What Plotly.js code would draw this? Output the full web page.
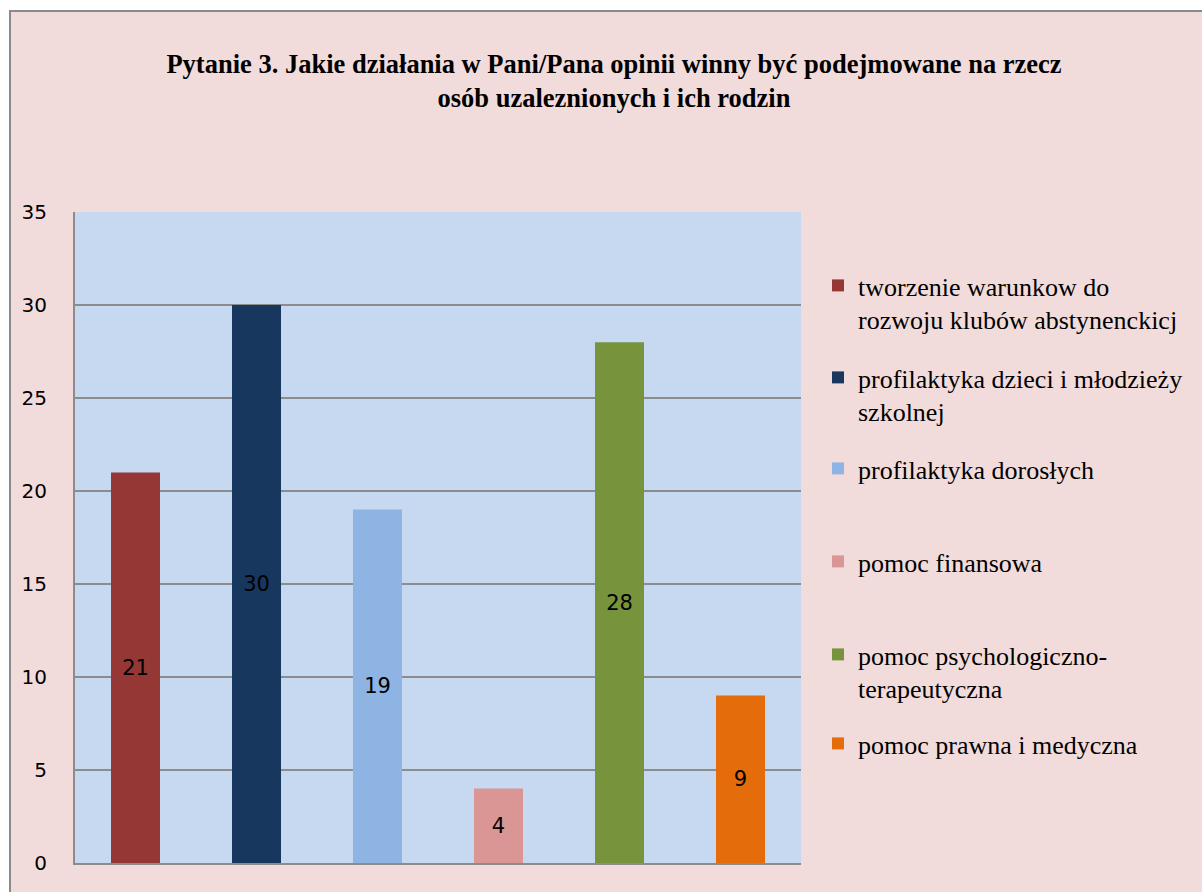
<!DOCTYPE html>
<html><head><meta charset="utf-8">
<script src="https://cdn.plot.ly/plotly-3.0.1.min.js"></script>
<style>
html,body{margin:0;padding:0;background:#fff;width:1202px;height:892px;overflow:hidden}
#frame{position:absolute;left:9px;top:10px;width:1193px;height:882px;border-left:2px solid #8a8a8a;border-top:2px solid #8a8a8a;background:#F2DCDB}
#chart{width:1191px;height:880px}
</style></head><body><div id="frame"><div id="chart"></div></div>
<script>
const categories = [
  "tworzenie warunkow do rozwoju klubów abstynenckicj",
  "profilaktyka dzieci i młodzieży szkolnej",
  "profilaktyka dorosłych",
  "pomoc finansowa",
  "pomoc psychologiczno-terapeutyczna",
  "pomoc prawna i medyczna"
];
const legendLabels = [
  "tworzenie warunkow do<br>rozwoju klubów abstynenckicj",
  "profilaktyka dzieci i młodzieży<br>szkolnej",
  "profilaktyka dorosłych",
  "pomoc finansowa",
  "pomoc psychologiczno-<br>terapeutyczna",
  "pomoc prawna i medyczna"
];
const values = [21, 30, 19, 4, 28, 9];
const colors = ["#953735", "#17375E", "#8EB4E3", "#D99694", "#77933C", "#E46C0A"];
const yTicks = [0, 5, 10, 15, 20, 25, 30, 35];

// legend item first-line centres (px from top of page) - layout only
const legendCenters = [288, 380, 471, 564, 657, 746];
const plotTopAbs = 212, plotBottomAbs = 863, plotH = plotBottomAbs - plotTopAbs;

const traces = categories.map((c, i) => ({
  type: 'bar',
  x: [c],
  y: [values[i]],
  name: legendLabels[i],
  marker: {color: colors[i]},
  width: 0.405,
  text: [String(values[i])],
  textposition: 'inside',
  insidetextanchor: 'middle',
  constraintext: 'none',
  textfont: {family: 'DejaVu Sans', size: 21, color: '#000'},
  legend: i === 0 ? 'legend' : 'legend' + (i + 1),
  hoverinfo: 'name+y'
}));

const layout = {
  width: 1191, height: 880,
  paper_bgcolor: '#F2DCDB',
  plot_bgcolor: '#C6D9F1',
  margin: {l: 64, r: 401, t: 200, b: 29, pad: 0},
  barmode: 'overlay',
  title: {
    text: '<b>Pytanie 3. Jakie działania w Pani/Pana opinii winny być podejmowane na rzecz<br>osób uzaleznionych i ich rodzin</b>',
    font: {family: 'Liberation Serif', size: 26.5, color: '#000'},
    xref: 'container', yref: 'container',
    x: 0.5063, xanchor: 'center',
    y: 0.931, yanchor: 'top'
  },
  xaxis: {
    type: 'category', categoryarray: categories, range: [-0.5, 5.5],
    showticklabels: false, showgrid: false, zeroline: false,
    showline: true, linecolor: '#8c8c8c', linewidth: 2, ticks: ''
  },
  yaxis: {
    range: [0, 35], tickvals: yTicks, ticktext: yTicks.map(String),
    showgrid: true, gridcolor: '#8c8c8c', gridwidth: 2,
    zeroline: false, showline: true, linecolor: '#8c8c8c', linewidth: 2,
    ticks: '', ticklabelstandoff: 22,
    tickfont: {family: 'DejaVu Sans', size: 20, color: '#000'}
  },
  showlegend: true
};

legendCenters.forEach((cy, i) => {
  const key = i === 0 ? 'legend' : 'legend' + (i + 1);
  layout[key] = {
    x: 1.0234, xanchor: 'left',
    y: (plotBottomAbs - (cy - 26)) / plotH, yanchor: 'top',
    valign: 'top',
    bgcolor: 'rgba(0,0,0,0)', borderwidth: 0,
    font: {family: 'Liberation Serif', size: 26, color: '#000'},
    itemclick: false, itemdoubleclick: false
  };
});

Plotly.newPlot('chart', traces, layout, {displayModeBar: false, responsive: false});
</script>
</body></html>
